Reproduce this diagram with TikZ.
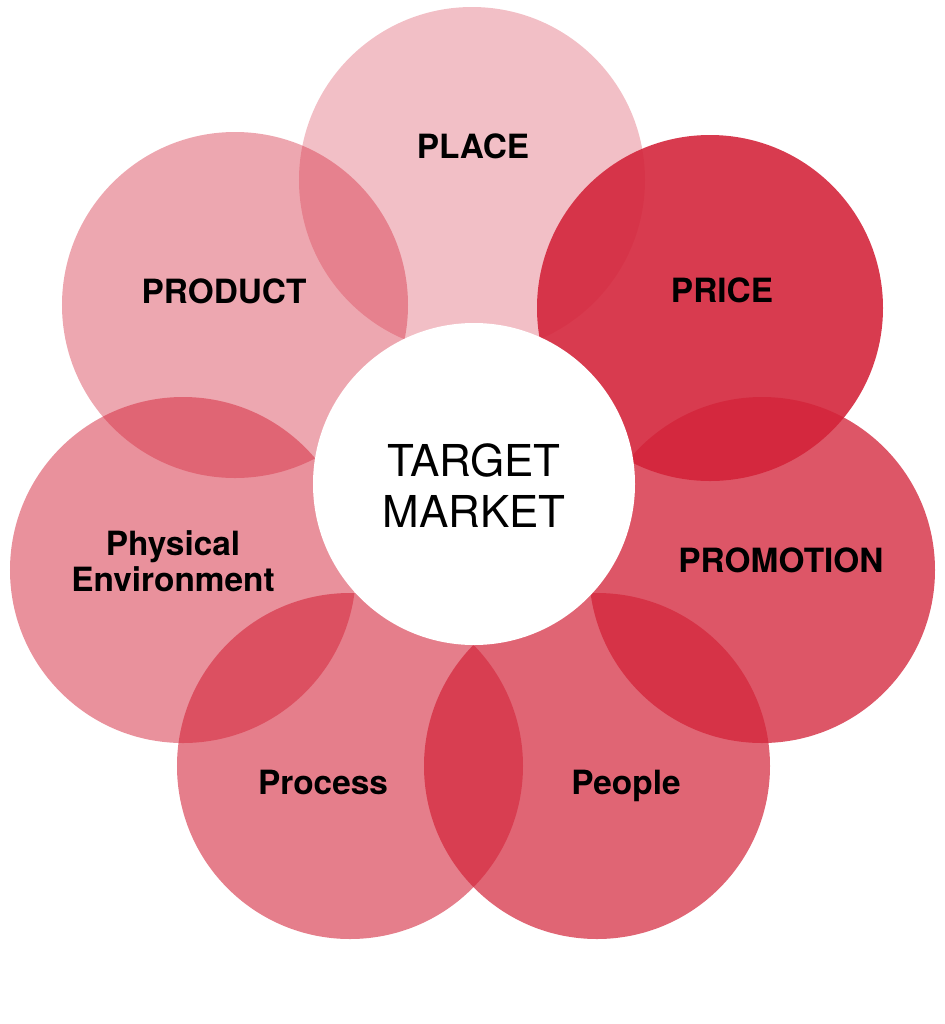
\documentclass[tikz,border=0pt]{standalone}
\usepackage{fontspec}
\setsansfont{TeX Gyre Heros}
\usepackage{xcolor}
\usepackage{tikz}
\definecolor{petalRed}{RGB}{211, 35, 57}

\begin{document}
\begin{tikzpicture}[x=0.2mm, y=-0.2mm,
    petal/.style={circle, fill=petalRed, minimum size=69.2mm, inner sep=0pt},
    hub/.style={circle, fill=white, minimum size=64.4mm, inner sep=0pt},
    tag/.style={font=\sffamily\bfseries\fontsize{19}{20.5}\selectfont, align=center, inner sep=0pt},
    hubtext/.style={font=\sffamily\fontsize{25}{29}\selectfont, align=center, inner sep=0pt}]

    \useasboundingbox (0,0) rectangle (945,1024);

    % the seven petals
    \node (place) [petal, fill opacity=0.29] at (472,180) {};
    \node (price) [petal, fill opacity=0.89] at (710,308) {};
    \node (promo) [petal, fill opacity=0.77] at (762,570) {};
    \node (people) [petal, fill opacity=0.70] at (597,766) {};
    \node (process) [petal, fill opacity=0.59] at (350,766) {};
    \node (physical) [petal, fill opacity=0.50] at (183,570) {};
    \node (product) [petal, fill opacity=0.40] at (235,305) {};

    % centre
    \node (target) [hub] at (474,484) {};
    \node (targetT) [hubtext] at (474,486) {TARGET\\MARKET};

    % labels
    \node (placeT) [tag, anchor=base] at (473,158) {PLACE};
    \node (priceT) [tag, anchor=base] at (722,302) {PRICE};
    \node (productT) [tag, anchor=base] at (224,303) {PRODUCT};
    \node (promoT) [tag, anchor=base] at (781,572) {PROMOTION};
    \node (physicalT) [tag] at (173,561) {Physical\\Environment};
    \node (processT) [tag, anchor=base] at (323,794) {Process};
    \node (peopleT) [tag, anchor=base] at (626,794) {People};

\end{tikzpicture}
\end{document}
